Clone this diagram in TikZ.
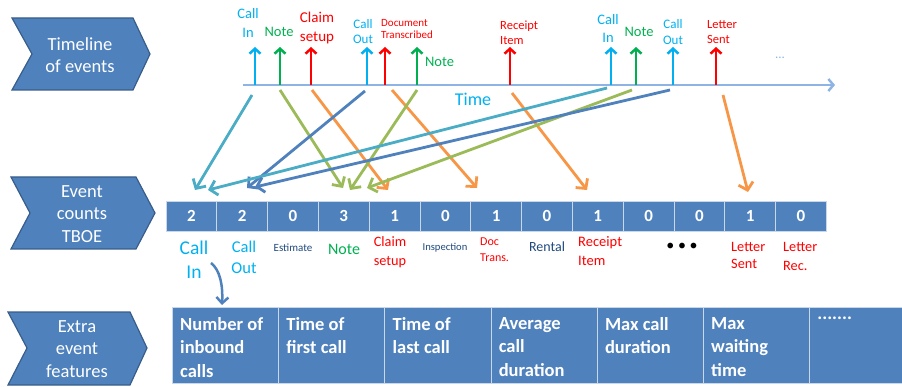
\documentclass[tikz,border=0pt]{standalone}
\usepackage{fontspec}
\setmainfont{Carlito}
\usetikzlibrary{arrows.meta}
\definecolor{chev}{HTML}{4F81BD}
\definecolor{chevb}{HTML}{385D8A}
\definecolor{ccyan}{HTML}{00B0F0}
\definecolor{cgreen}{HTML}{00B050}
\definecolor{cred}{HTML}{FF0000}
\definecolor{cnavy}{HTML}{1F497D}
\definecolor{caxis}{HTML}{8EB4E3}
\definecolor{mteal}{HTML}{4BACC6}
\definecolor{mgreen}{HTML}{9BBB59}
\definecolor{morange}{HTML}{F79646}
\definecolor{mblue}{HTML}{4F81BD}
\definecolor{cellline}{HTML}{C9D7EB}
\newcommand{\fsz}[2]{\fontsize{#1}{#2}\selectfont}
\begin{document}
\begin{tikzpicture}[x=1pt,y=-1pt,
  chevron/.style={fill=chev, draw=chevb, line width=1.2pt, line join=miter},
  chevtext/.style={text=white, align=center, font=\fsz{18.5}{22.5}, inner sep=0},
  cell/.style={fill=chev, draw=cellline, line width=0.8pt, minimum width=50.8pt, minimum height=30pt, inner sep=0, text=white, font=\bfseries\fsz{17}{20}},
  fcell/.style={fill=chev, draw=cellline, line width=0.8pt, minimum height=76pt, inner sep=0, anchor=north west},
  ftext/.style={text=white, align=left, anchor=north west, font=\bfseries\fsz{18.5}{23.5}, inner sep=0},
  evarrow/.style={line width=2.5pt, -{Straight Barb[length=5pt,width=11pt]}},
  maparrow/.style={line width=2.8pt, -{Straight Barb[length=7pt,width=15pt]}},
  lab/.style={align=center, inner sep=0},
  labl/.style={align=left, inner sep=0, anchor=west}
]
\useasboundingbox (0,0) rectangle (902,387);

% chevrons
\draw[chevron] (12,18) -- (133,18) -- (150,54) -- (133,90) -- (12,90) -- (32,54) -- cycle;
\node[chevtext] (tl) at (80,55) {Timeline\\of events};
\draw[chevron] (11,177) -- (136,177) -- (155,213) -- (136,249) -- (11,249) -- (30,213) -- cycle;
\node[chevtext] (ec) at (82,214) {Event\\counts\\TBOE};
\draw[chevron] (8,312) -- (130,312) -- (147,348) -- (130,385) -- (8,385) -- (27,348) -- cycle;
\node[chevtext] (ef) at (77,349) {Extra\\event\\features};

% time axis
\coordinate (ax0) at (243,85);
\coordinate (ax1) at (835,85);
\draw[caxis, line width=2.5pt, -{Straight Barb[length=5pt,width=12pt]}] (ax0) -- (ax1);
\node[text=ccyan, font=\fsz{18}{20}, inner sep=0] (time) at (473,99) {Time};

% event arrows
\foreach \n/\x/\c in {1/255/ccyan, 2/280/cgreen, 3/311/cred, 4/367/ccyan, 5/385/cred, 6/417/cgreen, 7/510/cred, 8/611/ccyan, 9/636/cgreen, 10/673/ccyan, 11/716/cred}{
  \coordinate (b\n) at (\x,85);
  \coordinate (t\n) at (\x,47);
  \draw[evarrow, \c] (b\n) -- (t\n);
}

% event labels
\node[lab, text=ccyan, font=\fsz{14.5}{19}] (l1) at (248,22.5) {Call\\In};
\node[lab, text=cgreen, font=\fsz{14.5}{19}] (l2) at (279,32) {Note};
\node[lab, text=cred, font=\fsz{15}{18.5}] (l3) at (317,28) {Claim\\setup};
\node[lab, text=ccyan, font=\fsz{13}{15}] (l4) at (363,31.5) {Call\\Out};
\node[labl, text=cred, font=\fsz{11}{12.5}] (l5) at (381,29) {Document\\Transcribed};
\node[lab, text=cgreen, font=\fsz{14.5}{19}] (l6) at (439.5,62) {Note};
\node[labl, text=cred, font=\fsz{12.5}{15}] (l7) at (500,32.5) {Receipt\\Item};
\node[lab, text=ccyan, font=\fsz{14.5}{18}] (l8) at (608,28) {Call\\In};
\node[lab, text=cgreen, font=\fsz{14.5}{19}] (l9) at (639,32) {Note};
\node[lab, text=ccyan, font=\fsz{13}{16}] (l10) at (673,32) {Call\\Out};
\node[labl, text=cred, font=\fsz{12.5}{15}] (l11) at (707,32.5) {Letter\\Sent};
\node[lab, text=caxis, font=\fsz{13}{15}] (l12) at (780,58) {...};

% count cells
\foreach \v [count=\i] in {2,2,0,3,1,0,1,0,1,0,0,1,0}{
  \node[cell] (c\i) at ({166+50.8*(\i-0.5)},216) {\v};
}

% count labels
\node[lab, text=ccyan, font=\fsz{19.5}{24}] (k1) at (194,260) {Call\\In};
\node[lab, text=ccyan, font=\fsz{16.5}{21}] (k2) at (244,257.5) {Call\\Out};
\node[lab, text=cnavy, font=\fsz{11}{13}] (k3) at (293,248) {Estimate};
\node[lab, text=cgreen, font=\fsz{16}{19}] (k4) at (344,249) {Note};
\node[lab, text=cred, font=\fsz{14.3}{19}] (k5) at (390,252.5) {Claim\\setup};
\node[lab, text=cnavy, font=\fsz{10.6}{13}] (k6) at (445,248) {Inspection};
\node[labl, text=cred, font=\fsz{12}{16}] (k7) at (480,250) {Doc\\Trans.};
\node[lab, text=cnavy, font=\fsz{14}{16}] (k8) at (547,247) {Rental};
\node[labl, text=cred, font=\fsz{14.5}{19}] (k9) at (578,251.5) {Receipt\\Item};
\node[lab, text=black, font=\fsz{16}{18}] (k10) at (682,247) {• • •};
\node[labl, text=cred, font=\fsz{14.3}{17.5}] (k11) at (731,255.5) {Letter\\Sent};
\node[labl, text=cred, font=\fsz{14.3}{18.5}] (k12) at (783,256.5) {Letter\\Rec.};

% mapping arrows
\foreach \n/\sx/\sy/\ex/\ey/\c in {
  1/252/95/195/190/mteal,
  2/280/90/343/188/mgreen,
  3/312/90/388/190/morange,
  4/365/91/247/188/mblue,
  5/392/90/477/188/morange,
  6/417/90/350/190/mgreen,
  7/512/93/587/190/morange,
  8/607/88/208/190/mteal,
  9/632/90/367/188/mgreen,
  10/670/90/255/187/mblue,
  11/723/95/748/192/morange}{
  \coordinate (ms\n) at (\sx,\sy);
  \coordinate (me\n) at (\ex,\ey);
  \draw[maparrow, \c] (ms\n) -- (me\n);
}

% feature cells
\foreach \i in {1,...,6}{
  \node[fcell, minimum width=106.2pt] (f\i) at ({172+106.2*(\i-1)},307) {};
}
\node[fcell, minimum width=93pt] (f7) at (809.2,307) {};
\node[ftext] (ft1) at ([shift={(8,10)}]f1.north west) {Number of\\inbound\\calls};
\node[ftext] (ft2) at ([shift={(8,10)}]f2.north west) {Time of\\first call};
\node[ftext] (ft3) at ([shift={(8,10)}]f3.north west) {Time of\\last call};
\node[ftext] (ft4) at ([shift={(8,10)}]f4.north west) {Average\\call\\duration};
\node[ftext] (ft5) at ([shift={(8,10)}]f5.north west) {Max call\\duration};
\node[ftext] (ft6) at ([shift={(8,10)}]f6.north west) {Max\\waiting\\time};
\node[ftext] (ft7) at ([shift={(8,10)}]f7.north west) {.......};

% curved arrow
\coordinate (cs) at (211,263);
\coordinate (ce) at (222,305);
\draw[mblue, line width=2.5pt, -{Straight Barb[length=6pt,width=12pt]}] (cs) .. controls (220,270) and (223,285) .. (ce);
\end{tikzpicture}
\end{document}
